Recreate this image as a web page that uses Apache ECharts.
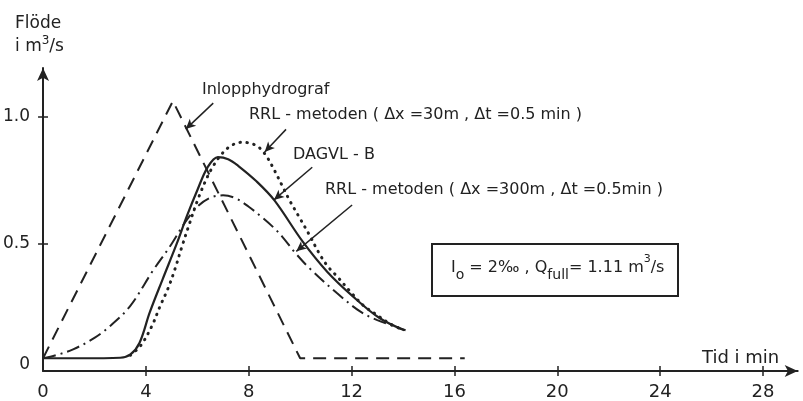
<!DOCTYPE html>
<html>
<head>
<meta charset="utf-8">
<script src="https://cdn.jsdelivr.net/npm/echarts@6/dist/echarts.min.js"></script>
<style>
  html, body { margin: 0; padding: 0; background: #fff; }
  #chart { width: 803px; height: 401px; }
</style>
</head>
<body>
<div id="chart"></div>
<script>
// Outflow hydrographs: flow (m³/s) against time (min)

// Inlet hydrograph (triangular)
const inletT = [0, 5.05, 10, 16.4];
const inletQ = [0.05, 1.06, 0.05, 0.05];

// DAGVL-B
const dagvlT = [0, 1.5, 3.0, 3.4, 3.75, 4.15, 4.65, 5.2, 5.6, 6.0, 6.4, 6.8, 7.2, 7.6, 8.3, 9.0, 10.1, 11.05, 12.05, 13.1, 14.05];
const dagvlQ = [0.05, 0.05, 0.052, 0.065, 0.11, 0.23, 0.36, 0.5, 0.61, 0.71, 0.8, 0.84, 0.832, 0.805, 0.745, 0.67, 0.508, 0.39, 0.293, 0.207, 0.16];

// RRL-metoden, Δx = 30 m, Δt = 0.5 min
const rrl30T = [3.4, 3.8, 4.23, 4.55, 4.86, 5.13, 5.4, 5.7, 6.03, 6.38, 6.65, 6.95, 7.3, 7.7, 8.05, 8.4, 8.7, 9.0, 9.3, 9.6, 10.0, 10.4, 10.7, 11.05, 11.45, 11.95, 12.45, 13.0, 13.5, 14.05];
const rrl30Q = [0.062, 0.1, 0.176, 0.254, 0.324, 0.4, 0.488, 0.58, 0.676, 0.76, 0.81, 0.852, 0.884, 0.898, 0.895, 0.878, 0.842, 0.788, 0.728, 0.668, 0.598, 0.527, 0.469, 0.414, 0.37, 0.312, 0.258, 0.219, 0.185, 0.16];

// RRL-metoden, Δx = 300 m, Δt = 0.5 min
const rrl300T = [0, 0.5, 1.17, 2.0, 2.6, 3.38, 4.28, 4.94, 5.5, 6.0, 6.5, 7.0, 7.5, 8.0, 8.5, 8.95, 9.3, 9.8, 10.4, 11.44, 12.33, 13.0, 14.1];
const rrl300Q = [0.05, 0.062, 0.085, 0.13, 0.176, 0.254, 0.395, 0.49, 0.58, 0.645, 0.68, 0.69, 0.678, 0.645, 0.605, 0.565, 0.528, 0.465, 0.4, 0.305, 0.234, 0.2, 0.16];

// Axis ticks and labels
const xLabelValues = [0, 4, 8, 12, 16, 20, 24, 28];
const xTickValues = [4, 8, 12, 16, 20, 24, 28];
const yLabelValues = [0, 0.5, 1.0];
const yTickValues = [0.5, 1.0];

const FONT = '"DejaVu Sans", sans-serif';
const INK = '#222';

const pairs = (t, q) => t.map((v, i) => [v, q[i]]);

// Leader lines from the curve names to their curves, in data units
const leaders = [
  [[6.62, 1.052], [5.55, 0.95]],
  [[9.45, 0.949], [8.62, 0.86]],
  [[10.47, 0.80], [8.98, 0.672]],
  [[12.02, 0.652], [9.85, 0.47]]
];

const chart = echarts.init(document.getElementById('chart'), null, { renderer: 'canvas' });

const X_MIN = 0, X_MAX = 29.35, Y_MIN = 0, Y_MAX = 1.19;

const tickStyle = { color: INK, width: 1.5 };

chart.setOption({
  animation: false,
  backgroundColor: '#fff',
  grid: { left: 43, right: 5.3, top: 68, bottom: 28, containLabel: false },
  xAxis: [
    {
      type: 'value', position: 'bottom', min: X_MIN, max: X_MAX,
      axisLine: { show: true, onZero: false, symbol: ['none', 'arrow'], symbolSize: [9, 13], lineStyle: { color: INK, width: 2 } },
      axisTick: { show: true, length: 5, customValues: xTickValues, lineStyle: tickStyle },
      axisLabel: { customValues: xLabelValues, margin: 12, color: INK, fontFamily: FONT, fontSize: 18, formatter: v => String(v) },
      splitLine: { show: false }
    },
    {
      type: 'value', position: 'bottom', min: X_MIN, max: X_MAX,
      axisLine: { show: false, onZero: false },
      axisTick: { show: true, inside: true, length: 5, customValues: xTickValues, lineStyle: tickStyle },
      axisLabel: { show: false },
      splitLine: { show: false }
    }
  ],
  yAxis: [
    {
      type: 'value', position: 'left', min: Y_MIN, max: Y_MAX,
      axisLine: { show: true, onZero: false, symbol: ['none', 'arrow'], symbolSize: [9, 13], lineStyle: { color: INK, width: 2 } },
      axisTick: { show: true, length: 5, customValues: yTickValues, lineStyle: tickStyle },
      axisLabel: {
        customValues: yLabelValues, margin: 13, color: INK, fontFamily: FONT, fontSize: 17,
        formatter: v => (v === 0 ? '{z|0}' : v.toFixed(1)),
        rich: { z: { fontFamily: FONT, fontSize: 17, color: INK, padding: [0, 0, 12, 0] } }
      },
      splitLine: { show: false }
    },
    {
      type: 'value', position: 'left', min: Y_MIN, max: Y_MAX,
      axisLine: { show: false, onZero: false },
      axisTick: { show: true, inside: true, length: 5, customValues: yTickValues, lineStyle: tickStyle },
      axisLabel: { show: false },
      splitLine: { show: false }
    }
  ],
  series: [
    {
      name: 'Inlopphydrograf', type: 'line', showSymbol: false, silent: true,
      data: pairs(inletT, inletQ),
      lineStyle: { color: INK, width: 2, type: [13, 8] },
      markLine: {
        silent: true, symbol: ['none', 'arrow'], symbolSize: [7, 10],
        label: { show: false },
        lineStyle: { color: INK, width: 1.5, type: 'solid' },
        data: leaders.map(l => [{ coord: l[0] }, { coord: l[1] }])
      }
    },
    {
      name: 'RRL 300', type: 'line', showSymbol: false, silent: true, smooth: 0.35,
      data: pairs(rrl300T, rrl300Q),
      lineStyle: { color: INK, width: 2, type: [13, 5, 2, 5] }
    },
    {
      name: 'RRL 30', type: 'line', showSymbol: false, silent: true, smooth: 0.35,
      data: pairs(rrl30T, rrl30Q),
      lineStyle: { color: INK, width: 3, type: [0.5, 6.5], cap: 'round' }
    },
    {
      name: 'DAGVL-B', type: 'line', showSymbol: false, silent: true, smooth: 0.35,
      data: pairs(dagvlT, dagvlQ),
      lineStyle: { color: INK, width: 2.2 }
    }
  ],
  graphic: [
    { type: 'text', x: 15, y: 24, style: { text: 'Flöde', font: '17px ' + FONT, fill: INK, verticalAlign: 'middle' } },
    { type: 'text', x: 15, y: 47, style: {
        text: '{a|i m}{p|3}{a|/s}', verticalAlign: 'middle',
        rich: {
          a: { font: '17px ' + FONT, fill: INK, lineHeight: 24, verticalAlign: 'middle' },
          p: { font: '12px ' + FONT, fill: INK, lineHeight: 12, verticalAlign: 'top' }
        }
      } },
    { type: 'text', x: 702, y: 358, style: { text: 'Tid i min', font: '18px ' + FONT, fill: INK, verticalAlign: 'middle' } },
    { type: 'text', x: 202, y: 90, style: { text: 'Inlopphydrograf', font: '16px ' + FONT, fill: INK, verticalAlign: 'middle' } },
    { type: 'text', x: 249, y: 115, style: { text: 'RRL - metoden ( Δx =30m , Δt =0.5 min )', font: '16px ' + FONT, fill: INK, verticalAlign: 'middle' } },
    { type: 'text', x: 293, y: 155, style: { text: 'DAGVL - B', font: '16px ' + FONT, fill: INK, verticalAlign: 'middle' } },
    { type: 'text', x: 325, y: 190, style: { text: 'RRL - metoden ( Δx =300m , Δt =0.5min )', font: '16px ' + FONT, fill: INK, verticalAlign: 'middle' } },
    { type: 'rect', shape: { x: 432, y: 244, width: 246, height: 52 }, style: { fill: 'none', stroke: INK, lineWidth: 2 } },
    { type: 'text', x: 451, y: 268, style: {
        text: '{a|I}{s|o}{a| = 2‰ , Q}{s|full}{a|= 1.11 m}{p|3}{a|/s}', verticalAlign: 'middle',
        rich: {
          a: { font: '16px ' + FONT, fill: INK, lineHeight: 28, verticalAlign: 'middle' },
          s: { font: '14px ' + FONT, fill: INK, lineHeight: 14, verticalAlign: 'bottom' },
          p: { font: '11px ' + FONT, fill: INK, lineHeight: 12, verticalAlign: 'top' }
        }
      } }
  ]
});
</script>
</body>
</html>
